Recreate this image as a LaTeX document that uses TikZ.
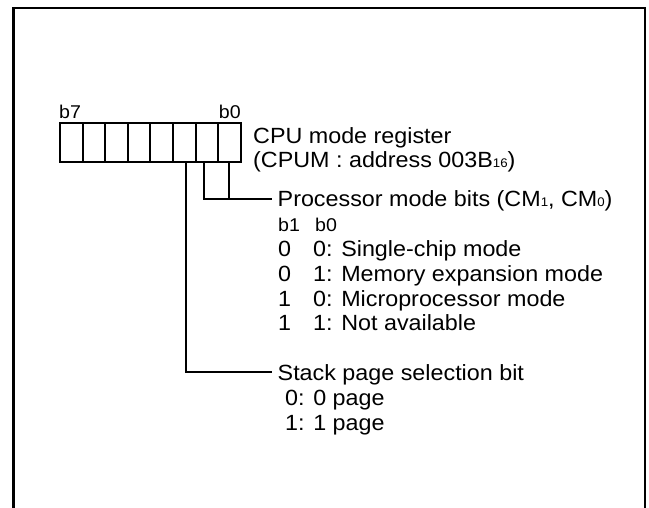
\documentclass[tikz,border=0pt]{standalone}
\usepackage{fontspec}
\setmainfont[FakeStretch=1.06]{Liberation Sans}
\newcommand{\subsm}[1]{{\fontsize{12.5}{12.5}\selectfont #1}}
\begin{document}
\begin{tikzpicture}[x=1pt,y=-1pt,
  cell/.style={draw, line width=2pt, minimum width=22.6pt, minimum height=38.7pt, inner sep=0pt, anchor=north west},
  txt/.style={anchor=base west, inner sep=0pt, font=\fontsize{22}{24.5}\selectfont},
  small/.style={anchor=base west, inner sep=0pt, font=\fontsize{18.5}{20}\selectfont},
  conn/.style={line width=2pt},
  frame/.style={line width=2.5pt}]
\useasboundingbox (0,0) rectangle (649,508);
\draw[frame] (13.3,508) -- (13.3,8) -- (645,8) -- (645,508);
% register cells, c7 leftmost
\foreach \i in {0,...,7} {
  \node[cell] (c\i) at ({59+22.6*(7-\i)},122) {};
}
\node[small] (lb7) at (59,119) {b7};
\node[small, anchor=base east] (lb0) at (241,119) {b0};
\node[txt] (t1) at (253,143.5) {CPU mode register};
\node[txt] (t2) at (253,168) {(CPUM : address 003B\subsm{16})};
% processor mode bits
\coordinate (pmend) at (272,199.3);
\node[txt] (pm) at (277.5,207) {Processor mode bits (CM\subsm{1}, CM\subsm{0})};
\node[small] (hb1) at (278,232) {b1};
\node[small] (hb0) at (315,232) {b0};
\node[txt] (r1a) at (278,257) {0};
\node[txt] (r1b) at (313,257) {0: Single-chip mode};
\node[txt] (r2a) at (278,281.5) {0};
\node[txt] (r2b) at (313,281.5) {1: Memory expansion mode};
\node[txt] (r3a) at (278,306) {1};
\node[txt] (r3b) at (313,306) {0: Microprocessor mode};
\node[txt] (r4a) at (278,330.5) {1};
\node[txt] (r4b) at (313,330.5) {1: Not available};
% stack page
\coordinate (spend) at (272,372.3);
\node[txt] (sp) at (277.5,380.5) {Stack page selection bit};
\node[txt] (sp0) at (285,405.5) {0: 0 page};
\node[txt] (sp1) at (285,430.5) {1: 1 page};
% connectors
\draw[conn] ([xshift=-2.7pt]c1.south) |- (pmend);
\draw[conn] ([xshift=-0.3pt]c0.south) -- ([xshift=-0.3pt]c0.south |- pmend);
\draw[conn] ([xshift=1.7pt]c2.south) |- (spend);
\end{tikzpicture}
\end{document}
